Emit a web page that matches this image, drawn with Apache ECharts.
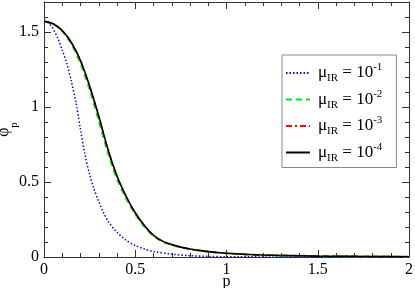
<!DOCTYPE html>
<html><head><meta charset="utf-8">
<script src="https://cdn.jsdelivr.net/npm/echarts@6/dist/echarts.min.js"></script>
<style>html,body{margin:0;padding:0;background:#fff}#c{width:415px;height:288px}</style>
</head><body><div id="c"></div>
<script>
var pMain = [0,0.05,0.1,0.15,0.2,0.25,0.3,0.35,0.4,0.45,0.5,0.55,0.6,0.65,0.7,0.75,0.8,0.85,0.9,0.95,1.0,1.1,1.2,1.3,1.4,1.5,1.6,1.7,1.8,1.9,2.0];
var phiMu4 = [1.571,1.555,1.51,1.43,1.31,1.14,0.94,0.72,0.54,0.405,0.295,0.21,0.145,0.106,0.083,0.066,0.053,0.044,0.036,0.030,0.025,0.018,0.013,0.010,0.008,0.006,0.005,0.004,0.003,0.0025,0.002];
var phiMu3 = [1.571,1.555,1.509,1.428,1.307,1.137,0.935,0.716,0.537,0.403,0.294,0.209,0.144,0.105,0.082,0.066,0.053,0.044,0.036,0.030,0.025,0.018,0.013,0.010,0.008,0.006,0.005,0.004,0.003,0.0025,0.002];
var phiMu2 = [1.571,1.553,1.505,1.42,1.29,1.115,0.91,0.695,0.52,0.39,0.285,0.202,0.14,0.102,0.080,0.064,0.052,0.043,0.035,0.029,0.024,0.017,0.013,0.010,0.008,0.006,0.005,0.004,0.003,0.0025,0.002];
var pMu1 = [0,0.025,0.05,0.075,0.1,0.125,0.15,0.175,0.2,0.225,0.25,0.275,0.3,0.325,0.35,0.4,0.45,0.5,0.55,0.6,0.7,0.8,0.9,1.0,1.2,1.4,1.6,1.8,2.0];
var phiMu1 = [1.571,1.56,1.52,1.46,1.38,1.29,1.17,1.03,0.85,0.68,0.55,0.45,0.37,0.30,0.24,0.165,0.112,0.077,0.053,0.037,0.019,0.009,0.004,0.002,0.0007,0.0003,0.0001,0.00005,0];
var seriesNames = ['mu1','mu2','mu3','mu4'];
var exponents = ['-1','-2','-3','-4'];
var xTicks = [0,0.5,1,1.5,2];
var yTicks = [0,0.5,1,1.5];

function pairs(xs, ys){ return xs.map(function(x,i){ return [x, ys[i]]; }); }

var serif = 'Liberation Serif';
var axisColor = '#333';
var chart = echarts.init(document.getElementById('c'), null, {renderer:'canvas'});
var grid = {left:44, right:6, top:2, bottom:31, containLabel:false, outerBoundsMode:'none'};

function xAx(pos, show){
  return {type:'value', position:pos, min:0, max:2, interval:0.5, gridIndex:0,
    axisLine:{show:true, onZero:false, lineStyle:{color:axisColor, width:1}},
    axisTick:{show:true, inside:true, length:7, lineStyle:{color:axisColor}},
    minorTick:{show:true, splitNumber:5, length:4, lineStyle:{color:axisColor}},
    axisLabel:{show:show, margin:5, fontFamily:serif, fontSize:16, color:'#000',
      formatter:function(v){ return xTicks.indexOf(v)>=0 ? String(v) : ''; }},
    splitLine:{show:false},
    name: show ? 'p' : '', nameLocation:'middle', nameGap:17, nameMoveOverlap:false,
    nameTextStyle:{fontFamily:serif, fontSize:16, color:'#000'}};
}
function yAx(pos, major, show, line){
  return {type:'value', position:pos, min:0, max:1.7, interval: major?0.5:0.1,
    axisLine:{show:line, onZero:false, lineStyle:{color:axisColor, width:1}},
    axisTick:{show:true, inside:true, length: major?7:4, lineStyle:{color:axisColor}},
    axisLabel:{show:show, margin:5, fontFamily:serif, fontSize:16, color:'#000', showMaxLabel:false,
      formatter:function(v){ return yTicks.indexOf(v)>=0 ? String(v) : ''; }},
    splitLine:{show:false},
    name: show ? '{a|φ}{b|p}' : '', nameLocation:'middle', nameGap:24, nameRotate:90, nameMoveOverlap:false,
    nameTextStyle:{fontFamily:serif, color:'#000',
      rich:{a:{fontFamily:serif, fontSize:16, lineHeight:24, verticalAlign:'top'},
            b:{fontFamily:serif, fontSize:11, lineHeight:24, verticalAlign:'bottom'}}}};
}

var styles = [
  {color:'#0000ff', width:1.5, type:[1.5,2]},
  {color:'#00ee00', width:2, type:[6,4]},
  {color:'#ff0000', width:1.5, type:[6,3,2,3]},
  {color:'#000000', width:1.6, type:'solid'}
];
var dataSets = [pairs(pMu1, phiMu1), pairs(pMain, phiMu2), pairs(pMain, phiMu3), pairs(pMain, phiMu4)];

var series = seriesNames.map(function(n,i){
  return {name:n, type:'line', xAxisIndex:0, yAxisIndex:0, data:dataSets[i],
    showSymbol:false, symbol:'none', smooth:0.3, z:2+i,
    lineStyle:{color:styles[i].color, width:styles[i].width, type:styles[i].type},
    itemStyle:{color:styles[i].color}};
});

chart.setOption({
  animation:false,
  backgroundColor:'#fff',
  grid:grid,
  xAxis:[xAx('bottom', true), xAx('top', false)],
  yAxis:[yAx('left', true, true, true), yAx('left', false, false, false),
         yAx('right', true, false, true), yAx('right', false, false, false)],
  legend:{orient:'vertical', left:282, top:55, width:104,
    padding:[7,14,4,3], itemGap:4.5, itemWidth:24, itemHeight:14,
    backgroundColor:'#fff', borderColor:'#888', borderWidth:1, borderRadius:0,
    itemStyle:{opacity:0, borderWidth:0},
    data:seriesNames,
    formatter:function(n){ var i=seriesNames.indexOf(n); return '{m|μ}{s|IR}{m| = 10}{e|'+exponents[i]+'}'; },
    textStyle:{fontFamily:serif, color:'#000', padding:[0,0,0,3],
      rich:{m:{fontFamily:serif, fontSize:17, lineHeight:22, verticalAlign:'middle'},
            s:{fontFamily:serif, fontSize:11, lineHeight:22, verticalAlign:'bottom', padding:[6,0,0,0]},
            e:{fontFamily:serif, fontSize:11, lineHeight:22, verticalAlign:'top', padding:[0,0,6,0]}}}
  },
  series:series
});
</script></body></html>
